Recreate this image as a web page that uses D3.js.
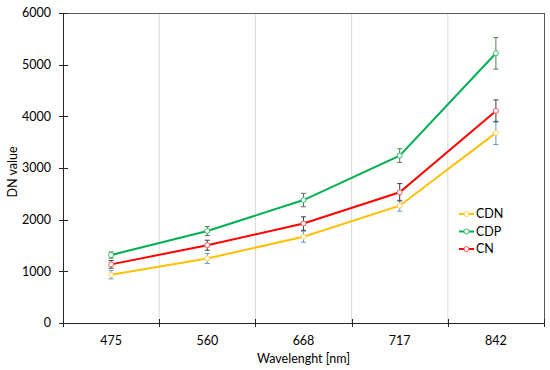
<!DOCTYPE html>
<html><head><meta charset="utf-8">
<script src="https://cdn.jsdelivr.net/npm/d3@7"></script>
<style>body{margin:0;background:#fff}text{font-family:Lato,"Open Sans",sans-serif}</style>
</head><body><svg id="c" width="550" height="370"></svg>
<script>
const categories = ["475","560","668","717","842"];
const yTicks = [0,1000,2000,3000,4000,5000,6000];
const seriesNames = ["CDN","CDP","CN"];
const cdn = [935,1250,1670,2270,3680];
const cdp = [1315,1780,2380,3240,5220];
const cn  = [1135,1505,1925,2530,4105];
const cdnErr = [80,97,106,106,225];
const cdpErr = [60,87,130,132,306];
const cnErr  = [75,97,130,168,213];

const colors = {CDN:"#ffc000", CDP:"#00b050", CN:"#ff0000"};
const markerColors = {CDN:"#ffd34d", CDP:"#33c070", CN:"#ff5050"};
const errColors = {CDN:"#5b9bd5", CDP:"#557a55", CN:"#404040"};
const data = {CDN:{v:cdn,e:cdnErr}, CDP:{v:cdp,e:cdpErr}, CN:{v:cn,e:cnErr}};

const svg = d3.select("#c");
const L=63, R=544, T=13, B=323;
const FS = 12.5;
const x = d3.scaleBand().domain(categories).range([L,R]).padding(0);
const y = d3.scaleLinear().domain([0,6000]).range([B,T]);

// vertical gridlines at band boundaries
const bounds = categories.slice(1).map(c=>x(c));
svg.selectAll(".vg").data(bounds).join("line")
  .attr("x1",d=>d).attr("x2",d=>d).attr("y1",T).attr("y2",B)
  .attr("stroke","#d9d9d9").attr("stroke-width",1);

// frame top/right
svg.append("line").attr("x1",L).attr("x2",R).attr("y1",T+0.5).attr("y2",T+0.5).attr("stroke","#595959");
svg.append("line").attr("x1",R+0.5).attr("x2",R+0.5).attr("y1",T).attr("y2",B).attr("stroke","#595959");

// y axis
svg.append("line").attr("x1",L+0.5).attr("x2",L+0.5).attr("y1",T).attr("y2",B).attr("stroke","#262626");
svg.selectAll(".yt").data(yTicks).join("line")
  .attr("x1",L-4).attr("x2",L+5).attr("y1",d=>Math.round(y(d))+0.5).attr("y2",d=>Math.round(y(d))+0.5)
  .attr("stroke","#262626");
svg.selectAll(".yl").data(yTicks).join("text")
  .attr("x",L-12).attr("y",d=>y(d)).attr("dy","0.35em").attr("text-anchor","end")
  .attr("font-size",FS).attr("fill","#000").text(d=>d);

// x axis
svg.append("line").attr("x1",L).attr("x2",R+1).attr("y1",B+0.5).attr("y2",B+0.5).attr("stroke","#262626");
const xt = [L, ...bounds, R];
svg.selectAll(".xt").data(xt).join("line")
  .attr("x1",d=>Math.round(d)+0.5).attr("x2",d=>Math.round(d)+0.5).attr("y1",B-4).attr("y2",B+4)
  .attr("stroke","#262626");
svg.selectAll(".xl").data(categories).join("text")
  .attr("x",d=>x(d)+x.bandwidth()/2).attr("y",341).attr("dy","0.35em").attr("text-anchor","middle")
  .attr("font-size",FS).attr("fill","#000").text(d=>d);

svg.append("text").attr("x",(L+R)/2).attr("y",359).attr("dy","0.35em").attr("text-anchor","middle")
  .attr("font-size",FS).text("Wavelenght [nm]");
svg.append("text").attr("transform","translate(13,172) rotate(-90)").attr("dy","0.35em")
  .attr("text-anchor","middle").attr("font-size",FS).text("DN value");

const cx = c => x(c)+x.bandwidth()/2;
const line = d3.line().x((d,i)=>cx(categories[i])).y(d=>y(d));

// error bars (drawn under lines)
seriesNames.forEach(s=>{
  const g = svg.append("g");
  categories.forEach((c,i)=>{
    const v=data[s].v[i], e=data[s].e[i], px=cx(c);
    g.append("line").attr("x1",px).attr("x2",px).attr("y1",y(v+e)).attr("y2",y(v-e)).attr("stroke",errColors[s]).attr("stroke-width",1);
    [v+e,v-e].forEach(w=>g.append("line").attr("x1",px-2.5).attr("x2",px+2.5).attr("y1",y(w)).attr("y2",y(w)).attr("stroke",errColors[s]).attr("stroke-width",1));
  });
});

seriesNames.forEach(s=>{
  svg.append("path").attr("d",line(data[s].v)).attr("fill","none").attr("stroke",colors[s]).attr("stroke-width",2);
  svg.selectAll(null).data(data[s].v).join("circle")
    .attr("cx",(d,i)=>cx(categories[i])).attr("cy",d=>y(d)).attr("r",2.5)
    .attr("fill","#fff").attr("stroke",markerColors[s]).attr("stroke-width",1);
});

// legend
const lg = svg.append("g");
seriesNames.forEach((s,i)=>{
  const ly = 214 + i*17.5;
  lg.append("line").attr("x1",459).attr("x2",474).attr("y1",ly).attr("y2",ly).attr("stroke",colors[s]).attr("stroke-width",2);
  lg.append("circle").attr("cx",466.5).attr("cy",ly).attr("r",2.5).attr("fill","#fff").attr("stroke",markerColors[s]);
  lg.append("text").attr("x",476).attr("y",ly).attr("dy","0.35em").attr("font-size",FS).text(s);
});
</script></body></html>
